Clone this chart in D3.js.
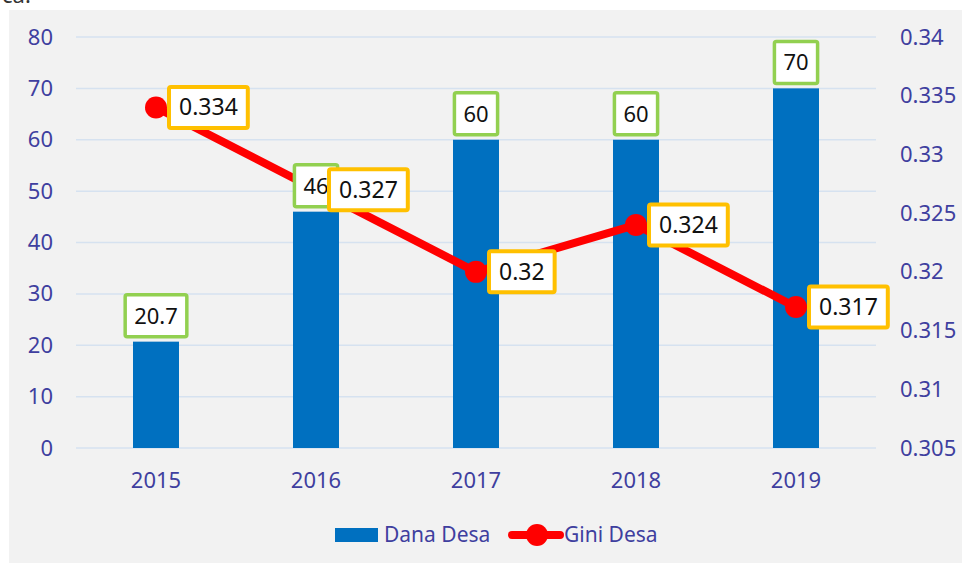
<!DOCTYPE html>
<html>
<head>
<meta charset="utf-8">
<script src="https://cdn.jsdelivr.net/npm/d3@7"></script>
<style>
  body { margin: 0; background: #fff; }
  text { font-family: "Noto Sans", "Open Sans", sans-serif; }
</style>
</head>
<body>
<svg id="chart" width="962" height="563"></svg>
<script>
var years = ["2015", "2016", "2017", "2018", "2019"];
var danaDesa = [20.7, 46, 60, 60, 70];
var giniDesa = [0.334, 0.327, 0.32, 0.324, 0.317];
var leftTicks = [0, 10, 20, 30, 40, 50, 60, 70, 80];
var rightTicks = [0.305, 0.31, 0.315, 0.32, 0.325, 0.33, 0.335, 0.34];

var axisColor = "#3f3f9f";
var barColor = "#0070c0";
var lineColor = "#ff0000";

var svg = d3.select("#chart");

// leftover text from the page above
svg.append("text").attr("x", 2).attr("y", 3).attr("font-size", 22).attr("fill", "#333").text("ca.");

// grey panel
svg.append("rect").attr("x", 9).attr("y", 10).attr("width", 953).attr("height", 553).attr("fill", "#f2f2f2");

var x = d3.scaleBand().domain(years).range([76, 876]);
var yL = d3.scaleLinear().domain([0, 80]).range([448, 37]);
var yR = d3.scaleLinear().domain([0.305, 0.34]).range([448, 37]);

// gridlines
svg.append("g").selectAll("line").data(leftTicks).enter().append("line")
  .attr("x1", 76).attr("x2", 876)
  .attr("y1", function(d){ return yL(d); }).attr("y2", function(d){ return yL(d); })
  .attr("stroke", "#d6e2f0").attr("stroke-width", 1.5);

// left axis
var leftAxis = d3.axisLeft(yL).tickValues(leftTicks).tickSize(0).tickPadding(0);
var gL = svg.append("g").attr("transform", "translate(53,0)").call(leftAxis);
gL.select(".domain").remove();
gL.selectAll("text").attr("font-size", 22).attr("fill", axisColor).attr("font-family", "Noto Sans");

// right axis
var rightAxis = d3.axisRight(yR).tickValues(rightTicks).tickSize(0).tickPadding(0).tickFormat(d3.format(""));
var gR = svg.append("g").attr("transform", "translate(900,0)").call(rightAxis);
gR.select(".domain").remove();
gR.selectAll("text").attr("font-size", 22).attr("fill", axisColor).attr("font-family", "Noto Sans");

// bottom axis
var bottomAxis = d3.axisBottom(x).tickSize(0).tickPadding(0);
var gB = svg.append("g").attr("transform", "translate(0,472)").call(bottomAxis);
gB.select(".domain").remove();
gB.selectAll("text").attr("font-size", 22).attr("fill", axisColor).attr("font-family", "Noto Sans");

// bars
var bw = 46;
svg.append("g").selectAll("rect").data(danaDesa).enter().append("rect")
  .attr("x", function(d, i){ return x(years[i]) + x.bandwidth() / 2 - bw / 2; })
  .attr("y", function(d){ return yL(d); })
  .attr("width", bw)
  .attr("height", function(d){ return yL(0) - yL(d); })
  .attr("fill", barColor);

// line
var line = d3.line()
  .x(function(d, i){ return x(years[i]) + x.bandwidth() / 2; })
  .y(function(d){ return yR(d); });
svg.append("path").datum(giniDesa).attr("d", line)
  .attr("fill", "none").attr("stroke", lineColor).attr("stroke-width", 8).attr("stroke-linejoin", "round");
svg.append("g").selectAll("circle").data(giniDesa).enter().append("circle")
  .attr("cx", function(d, i){ return x(years[i]) + x.bandwidth() / 2; })
  .attr("cy", function(d){ return yR(d); })
  .attr("r", 11).attr("fill", lineColor);

// bar labels (drawn over the line)
var barLab = svg.append("g").selectAll("g").data(danaDesa).enter().append("g");
barLab.each(function(d, i){
  var g = d3.select(this);
  var cx = x(years[i]) + x.bandwidth() / 2;
  var t = g.append("text").attr("x", cx).attr("text-anchor", "middle")
    .attr("font-size", 22).attr("fill", "#111").text(d);
  var w = t.node().getComputedTextLength() + 18;
  var bottom = yL(d) - 5;
  var h = 42;
  g.insert("rect", "text").attr("x", cx - w / 2).attr("y", bottom - h).attr("width", w).attr("height", h)
    .attr("fill", "#fff").attr("stroke", "#92d050").attr("stroke-width", 3.5).attr("rx", 2);
  t.attr("y", bottom - h / 2 + 8);
});

// gini labels
var giniLab = svg.append("g").selectAll("g").data(giniDesa).enter().append("g");
giniLab.each(function(d, i){
  var g = d3.select(this);
  var px = x(years[i]) + x.bandwidth() / 2 + 13;
  var py = yR(d);
  var t = g.append("text").attr("x", px + 10).attr("y", py + 8)
    .attr("font-size", 23).attr("fill", "#111").text(d);
  var w = t.node().getComputedTextLength() + 20;
  var h = 41;
  g.insert("rect", "text").attr("x", px).attr("y", py - h / 2).attr("width", w).attr("height", h)
    .attr("fill", "#fff").attr("stroke", "#ffc000").attr("stroke-width", 4).attr("rx", 2);
});

// legend
var lg = svg.append("g");
lg.append("rect").attr("x", 335).attr("y", 528).attr("width", 43).attr("height", 14).attr("fill", barColor);
lg.append("text").attr("x", 384).attr("y", 542).attr("font-size", 21).attr("fill", axisColor).text("Dana Desa");
lg.append("line").attr("x1", 512).attr("x2", 560).attr("y1", 535).attr("y2", 535)
  .attr("stroke", lineColor).attr("stroke-width", 8).attr("stroke-linecap", "round");
lg.append("circle").attr("cx", 537).attr("cy", 535).attr("r", 11).attr("fill", lineColor);
lg.append("text").attr("x", 564).attr("y", 542).attr("font-size", 21).attr("fill", axisColor).text("Gini Desa");
</script>
</body>
</html>
